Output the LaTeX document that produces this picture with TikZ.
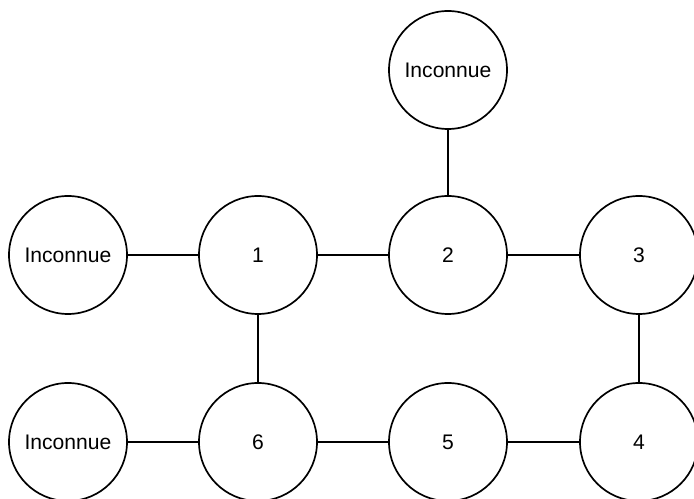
\documentclass[tikz,border=0pt]{standalone}
\usepackage{fontspec}
\setmainfont{Liberation Sans}
\tikzset{
    site/.style={circle, draw, line width=1.2pt, minimum size=2.95cm, inner sep=0pt, font=\fontsize{15}{18}\selectfont},
    link/.style={line width=1.2pt}
}
\begin{document}
\begin{tikzpicture}
    \useasboundingbox (0,0) rectangle (17.35,12.475);

    \node[site] (u0) at (11.2,10.725) {Inconnue};
    \node[site] (u1) at (1.7,6.1) {Inconnue};
    \node[site] (u2) at (1.7,1.425) {Inconnue};

    \node[site] (s1) at (6.45,6.1) {1};
    \node[site] (s2) at (11.2,6.1) {2};
    \node[site] (s3) at (15.975,6.1) {3};
    \node[site] (s4) at (15.975,1.425) {4};
    \node[site] (s5) at (11.2,1.425) {5};
    \node[site] (s6) at (6.45,1.425) {6};

     \draw[link] (u0) -- (s2);
     \draw[link] (u1) -- (s1);
     \draw[link] (u2) -- (s6);

     \draw[link] (s1) -- (s2);
     \draw[link] (s2) -- (s3);
     \draw[link] (s3) -- (s4);
     \draw[link] (s4) -- (s5);
     \draw[link] (s5) -- (s6);
     \draw[link] (s6) -- (s1);
  \end{tikzpicture}
\end{document}
